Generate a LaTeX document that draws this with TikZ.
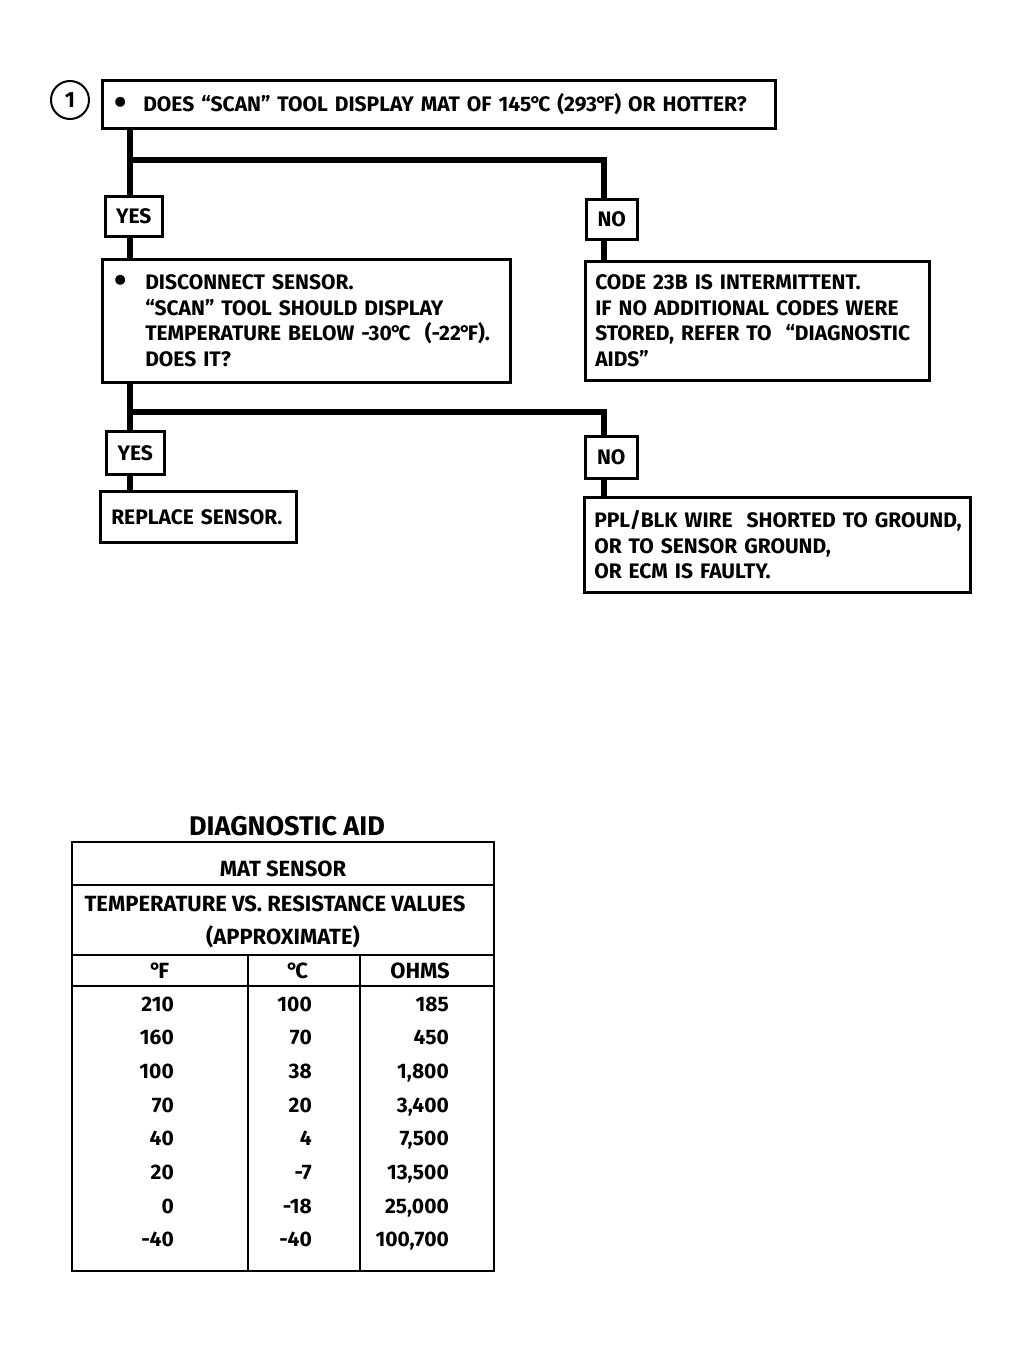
\documentclass[tikz,border=0pt]{standalone}
\usepackage{fontspec}
\setmainfont{Fira Sans}
\newcommand{\bigbul}{\raisebox{-2.5pt}{\scalebox{1.7}{\textbullet}}}
\newcommand{\dg}{\kern-1pt°\kern-3pt}
\begin{document}
\begin{tikzpicture}[x=1pt,y=-1pt,
  font=\fontsize{21}{25.5}\selectfont\bfseries,
  box/.style={draw, line width=2.5pt, inner ysep=0pt, anchor=north west, align=left},
  lab/.style={draw, line width=2.5pt, inner sep=0pt, anchor=north west, align=center},
  conn/.style={line width=6pt, line join=miter},
  tline/.style={line width=2.5pt},
  ttext/.style={anchor=base, inner sep=0pt, font=\fontsize{22}{22}\selectfont\bfseries},
  num/.style={anchor=base east, inner sep=0pt, font=\fontsize{21}{21}\selectfont\bfseries}]
\useasboundingbox (0,0) rectangle (1034,1355);

% flowchart
\node[draw, circle, line width=2pt, minimum size=38pt, inner sep=0pt,
      font=\fontsize{22}{22}\selectfont\bfseries] (c1) at (70,100) {1};
\node[box, minimum width=673pt, minimum height=48pt, inner xsep=12pt, text width=649pt] (q1) at (101,79)
  {\mbox{\makebox[29pt][l]{\bigbul}DOES ``SCAN'' TOOL DISPLAY MAT OF 145\dg C (293\dg F) OR HOTTER?}};
\node[lab, minimum width=57pt, minimum height=40pt] (y1) at (104,195) {YES};
\node[lab, minimum width=51pt, minimum height=40pt] (n1) at (585,198) {NO};
\node[box, minimum width=408pt, minimum height=123pt, inner xsep=12pt, text width=384pt] (q2) at (101,258)
  {\mbox{\makebox[31pt][l]{\bigbul}DISCONNECT SENSOR.}\\
   \mbox{\hspace*{31pt}``SCAN'' TOOL SHOULD DISPLAY}\\
   \mbox{\hspace*{31pt}TEMPERATURE BELOW -30\dg C\ \ (-22\dg F).}\\
   \mbox{\hspace*{31pt}DOES IT?}};
\node[box, minimum width=344pt, minimum height=119pt, inner xsep=10pt, text width=324pt] (q3) at (584,260)
  {\mbox{CODE 23B IS INTERMITTENT.}\\
   \mbox{IF NO ADDITIONAL CODES WERE}\\
   \mbox{STORED, REFER TO\ \ ``DIAGNOSTIC}\\
   \mbox{AIDS''}};
\node[lab, minimum width=58pt, minimum height=43pt] (y2) at (105,430) {YES};
\node[lab, minimum width=52pt, minimum height=42pt] (n2) at (584,435) {NO};
\node[box, minimum width=196pt, minimum height=51pt, inner xsep=11pt, text width=174pt] (r) at (99,490)
  {\mbox{REPLACE SENSOR.}};
\node[box, minimum width=386pt, minimum height=95pt, inner xsep=10pt, text width=366pt] (p) at (583,496)
  {\mbox{PPL/BLK WIRE\ \ SHORTED TO GROUND,}\\
   \mbox{OR TO SENSOR GROUND,}\\
   \mbox{OR ECM IS FAULTY.}};

\coordinate (a1) at (130,160);
\coordinate (b1) at (604,160);
\coordinate (a2) at (130,412);
\coordinate (b2) at (604,412);
\draw[conn] (q1.south -| a1) -- (y1.north -| a1);
\draw[conn] (a1) -| (n1.north -| b1);
\draw[conn] (y1.south -| a1) -- (q2.north -| a1);
\draw[conn] (n1.south -| b1) -- (q3.north -| b1);
\draw[conn] (q2.south -| a2) -- (y2.north -| a2);
\draw[conn] (a2) -| (n2.north -| b2);
\draw[conn] (y2.south -| a2) -- (r.north -| a2);
\draw[conn] (n2.south -| b2) -- (p.north -| b2);

% table
\node[ttext, font=\fontsize{27}{27}\selectfont\bfseries] (title) at (287,835) {DIAGNOSTIC AID};
\draw[tline] (72,842) rectangle (494,1271);
\draw[tline] (72,885) -- (494,885);
\draw[tline] (72,955) -- (494,955);
\draw[tline] (72,986) -- (494,986);
\draw[tline] (248,955) -- (248,1271);
\draw[tline] (360,955) -- (360,1271);
\node[ttext] (h1) at (283,876) {MAT SENSOR};
\node[ttext] (h2) at (275,911) {TEMPERATURE VS. RESISTANCE VALUES};
\node[ttext] (h3) at (283,944) {(APPROXIMATE)};
\node[ttext] (cf) at (160,978) {\dg F};
\node[ttext] (cc) at (298,978) {\dg C};
\node[ttext] (co) at (420,978) {OHMS};
\foreach \f/\c/\o [count=\i from 0] in {210/100/185, 160/70/450, 100/38/{1,800}, 70/20/{3,400},
    40/4/{7,500}, 20/-7/{13,500}, 0/-18/{25,000}, -40/-40/{100,700}} {
  \pgfmathsetmacro{\yy}{1011+33.7*\i}
  \node[num] (f\i) at (174,\yy) {\f};
  \node[num] (c\i) at (312,\yy) {\c};
  \node[num] (o\i) at (449,\yy) {\o};
}
\end{tikzpicture}
\end{document}
